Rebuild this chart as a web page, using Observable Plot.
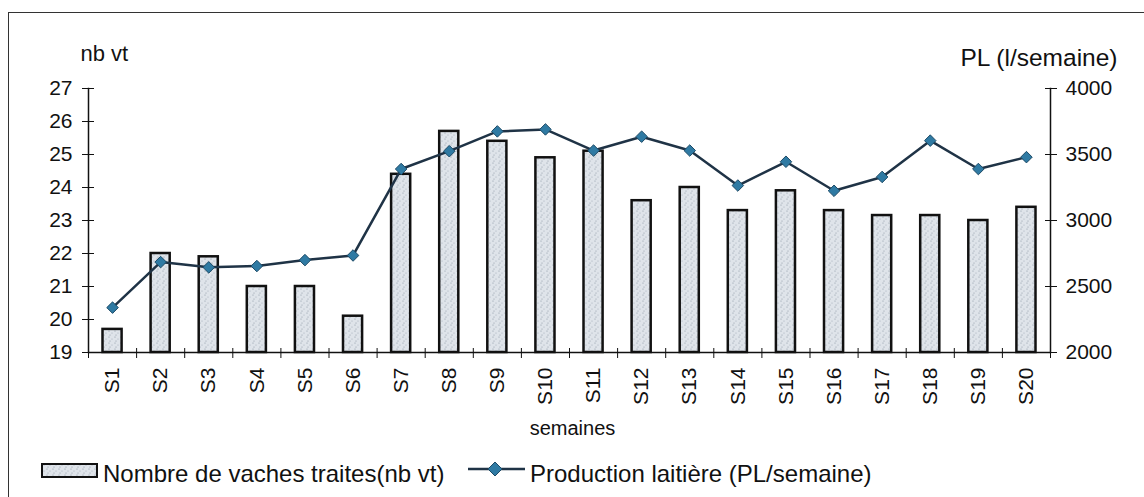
<!DOCTYPE html>
<html>
<head>
<meta charset="utf-8">
<script src="https://cdn.jsdelivr.net/npm/d3@7"></script>
<script src="https://cdn.jsdelivr.net/npm/@observablehq/plot@0.6"></script>
<style>
  html, body { margin: 0; padding: 0; background: #fff; }
  body { width: 1144px; height: 497px; overflow: hidden; position: relative; font-family: "Liberation Sans", Arial, sans-serif; color: #111; }
  #frame { position: absolute; left: 8px; top: 12px; width: 1300px; height: 700px; border: 1.5px solid #333; box-sizing: border-box; }
  #chart { position: absolute; left: 0; top: 0; }
  .leg { position: absolute; font-size: 24px; line-height: 1; white-space: nowrap; }
  .sw { position: absolute; }
</style>
</head>
<body>
<div id="frame"></div>
<div id="chart"></div>
<svg class="sw" style="left:40px;top:462px" width="60" height="18">
  <defs>
    <pattern id="stipple2" width="6" height="6" patternUnits="userSpaceOnUse">
      <rect width="6" height="6" fill="#dfe4ea"/>
      <circle cx="1" cy="1" r="0.6" fill="#8a96a3"/>
      <circle cx="4" cy="3" r="0.6" fill="#a4aeb9"/>
      <circle cx="2" cy="5" r="0.5" fill="#7f8b98"/>
    </pattern>
  </defs>
  <rect x="2" y="2" width="55" height="13" fill="url(#stipple2)" stroke="#111" stroke-width="2"/>
</svg>
<div class="leg" style="left:103px;top:462px">Nombre de vaches traites(nb vt)</div>
<svg class="sw" style="left:466px;top:458px" width="62" height="22">
  <line x1="2" y1="11" x2="59" y2="11" stroke="#1f3346" stroke-width="2.5"/>
  <path d="M29,4 L36,11 L29,18 L22,11 Z" fill="#2f7aa3" stroke="#1d4a66" stroke-width="1"/>
</svg>
<div class="leg" style="left:530px;top:462px">Production laitière (PL/semaine)</div>

<script>
// ---- Data ----
const weeks = ["S1","S2","S3","S4","S5","S6","S7","S8","S9","S10","S11","S12","S13","S14","S15","S16","S17","S18","S19","S20"];
const nbVaches = [19.7, 22.0, 21.9, 21.0, 21.0, 20.1, 24.4, 25.7, 25.4, 24.9, 25.1, 23.6, 24.0, 23.3, 23.9, 23.3, 23.15, 23.15, 23.0, 23.4];
const production = [2340, 2685, 2645, 2655, 2700, 2735, 3390, 3525, 3675, 3690, 3530, 3635, 3530, 3265, 3445, 3225, 3330, 3605, 3390, 3480];
const leftTicks = [19, 20, 21, 22, 23, 24, 25, 26, 27];
const rightTicks = [2000, 2500, 3000, 3500, 4000];

// ---- Build table ----
const data = weeks.map((w, i) => ({ i, week: w, nb: nbVaches[i], pl: production[i] }));

const lMin = leftTicks[0], lMax = leftTicks[leftTicks.length - 1];
const rMin = rightTicks[0], rMax = rightTicks[rightTicks.length - 1];
const toLeft = v => lMin + (v - rMin) / (rMax - rMin) * (lMax - lMin);
const fromLeft = v => String(Math.round(rMin + (v - lMin) / (lMax - lMin) * (rMax - rMin)));

const n = weeks.length;
const ink = "#111";

const plot = Plot.plot({
  width: 1144,
  height: 450,
  marginLeft: 88,
  marginRight: 94,
  marginTop: 88,
  marginBottom: 98,
  x: { domain: [0, n], axis: null, label: null },
  y: { domain: [lMin, lMax], axis: null, label: null },
  style: { fontFamily: "'Liberation Sans', Arial, sans-serif", fontSize: "21px", color: ink, background: "transparent" },
  marks: [
    // bars
    Plot.rectY(data, {
      x1: d => d.i, x2: d => d.i + 1, y1: lMin, y2: "nb",
      insetLeft: 14.5, insetRight: 14.5,
      fill: "url(#stipple)", stroke: ink, strokeWidth: 2.5
    }),
    // axis lines
    Plot.frame({ anchor: "left", stroke: ink, strokeWidth: 1.5 }),
    Plot.frame({ anchor: "right", stroke: ink, strokeWidth: 1.5 }),
    Plot.ruleY([lMin], { stroke: ink, strokeWidth: 1.5 }),
    // left axis
    Plot.axisY({ anchor: "left", ticks: leftTicks, tickSize: 6, tickPadding: 10, fontSize: 21, stroke: ink, label: null }),
    Plot.axisY({ anchor: "left", ticks: leftTicks, tickSize: 6, dx: 6, text: null, stroke: ink, label: null }),
    // right axis
    Plot.axisY({ anchor: "right", ticks: rightTicks.map(toLeft), tickFormat: fromLeft, tickSize: 6, tickPadding: 9, fontSize: 21, stroke: ink, label: null }),
    Plot.axisY({ anchor: "right", ticks: rightTicks.map(toLeft), tickSize: 6, dx: -6, text: null, stroke: ink, label: null }),
    // x ticks at boundaries
    Plot.axisX({ anchor: "bottom", ticks: d3.range(n + 1), tickSize: 10, dy: -4, text: null, stroke: ink, label: null }),
    // x labels
    Plot.axisX({ anchor: "bottom", ticks: d3.range(n).map(i => i + 0.5), tickFormat: v => weeks[Math.floor(v)], tickSize: 0, tickPadding: 15, tickRotate: -90, fontSize: 21, label: null }),
    // line series (right axis)
    Plot.line(data, { x: d => d.i + 0.5, y: d => toLeft(d.pl), stroke: "#1f3346", strokeWidth: 2.5 }),
    Plot.dot(data, { x: d => d.i + 0.5, y: d => toLeft(d.pl), symbol: "diamond2", r: 5.2, fill: "#2f7aa3", stroke: "#1d4a66", strokeWidth: 1 }),
    // axis titles
    Plot.text(["nb vt"], { frameAnchor: "top-left", textAnchor: "start", dx: -8, dy: -43, fontSize: 22, fill: ink }),
    Plot.text(["PL (l/semaine)"], { frameAnchor: "top-right", textAnchor: "end", dx: 67, dy: -40, fontSize: 24.5, fill: ink }),
    Plot.text(["semaines"], { frameAnchor: "bottom", dx: 3, dy: 82, fontSize: 20, fill: ink })
  ]
});

plot.insertAdjacentHTML("afterbegin", `<defs>
  <pattern id="stipple" width="6" height="6" patternUnits="userSpaceOnUse">
    <rect width="6" height="6" fill="#dfe4ea"/>
    <circle cx="1" cy="1" r="0.6" fill="#8a96a3"/>
    <circle cx="4" cy="3" r="0.6" fill="#a4aeb9"/>
    <circle cx="2" cy="5" r="0.5" fill="#7f8b98"/>
  </pattern>
</defs>`);
document.getElementById("chart").appendChild(plot);
</script>
</body>
</html>
